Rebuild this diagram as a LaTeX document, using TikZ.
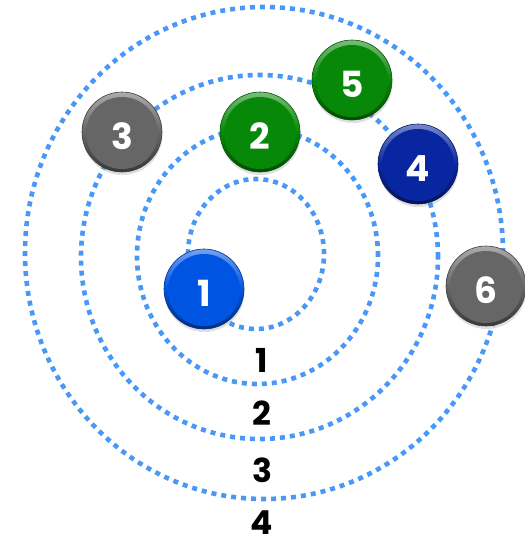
\documentclass[tikz,border=0pt]{standalone}
\usepackage{fontspec}
\setmainfont{Poppins}
\usetikzlibrary{shadows}
\definecolor{orbit}{RGB}{74,152,245}
\definecolor{bluea}{RGB}{0,84,226}
\definecolor{blueb}{RGB}{8,38,160}
\definecolor{greenb}{RGB}{8,136,8}
\definecolor{grayb}{RGB}{102,102,102}
\tikzset{
  orbitline/.style={draw=orbit, line width=4.6pt, dash pattern=on 5pt off 5pt},
  ball/.style={circle, minimum size=80pt, inner sep=0pt, text height=35pt, text depth=0pt,
    top color=#1!55!white, bottom color=#1!55!black, middle color=#1,
    draw=#1!60!black, line width=0.6pt,
    path picture={\fill[#1] (path picture bounding box.center) ++(0,-1pt) circle (36pt);},
    drop shadow={opacity=0.25, shadow xshift=0.5pt, shadow yshift=-3pt},
    text=white, font=\fontsize{36}{40}\selectfont\bfseries},
  lab/.style={inner sep=0pt, text=black, font=\fontsize{33}{38}\selectfont\bfseries}
}
\begin{document}
\begin{tikzpicture}[x=1pt,y=-1pt]
\useasboundingbox (0,0) rectangle (525,544);
\path[orbitline] (256,254) ellipse [x radius=68pt, y radius=75pt];
\path[orbitline] (257.5,256) ellipse [x radius=120.5pt, y radius=128pt];
\path[orbitline] (259.5,257) ellipse [x radius=178.5pt, y radius=182pt];
\path[orbitline] (264,253) ellipse [x radius=239pt, y radius=246pt];
\node[ball=bluea]  (b1) at (204,289) {1};
\node[ball=greenb] (b2) at (260,132) {2};
\node[ball=grayb]  (b3) at (122,132) {3};
\node[ball=blueb]  (b4) at (418,164) {4};
\node[ball=greenb] (b5) at (352,80) {5};
\node[ball=grayb]  (b6) at (486,286) {6};
\node[lab] (l1) at (262,360) {1};
\node[lab] (l2) at (262,413) {2};
\node[lab] (l3) at (262,470) {3};
\node[lab] (l4) at (262,523) {4};
\end{tikzpicture}
\end{document}
